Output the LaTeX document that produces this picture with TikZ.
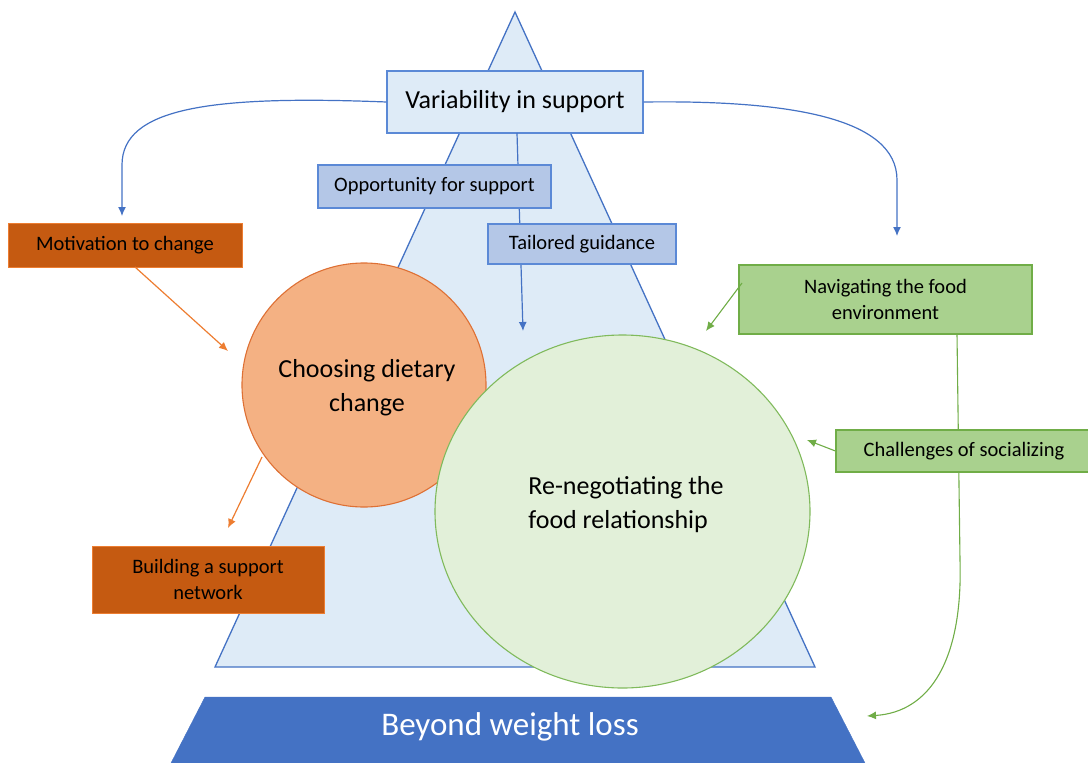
\documentclass[tikz,border=0pt]{standalone}
\usepackage{fontspec}
\setmainfont{Carlito}
\usetikzlibrary{arrows.meta,shapes.geometric}
\definecolor{triFill}{HTML}{DEEBF7}
\definecolor{triLine}{HTML}{4472C4}
\definecolor{boxLine}{RGB}{91,137,214}
\definecolor{midBlue}{HTML}{B4C7E7}
\definecolor{darkOrange}{HTML}{C55A11}
\definecolor{lineOrange}{HTML}{ED7D31}
\definecolor{circOrange}{HTML}{F4B183}
\definecolor{circOrangeLine}{RGB}{222,112,52}
\definecolor{boxGreen}{HTML}{A9D18E}
\definecolor{lineGreen}{HTML}{70AD47}
\definecolor{circGreen}{HTML}{E2F0D9}
\definecolor{circGreenLine}{RGB}{128,186,92}
\tikzset{
  tip/.style={-{Latex[length=9pt,width=8pt]}},
  bluecon/.style={draw=triLine,line width=1.2pt,tip},
  orangecon/.style={draw=lineOrange,line width=1.2pt,tip},
  greencon/.style={draw=lineGreen,line width=1.1pt,tip},
  smalltext/.style={font=\fontsize{20.5}{26}\selectfont,align=center,text=black},
  bluebox/.style={draw=boxLine,line width=1.2pt,fill=midBlue,smalltext,inner sep=0pt},
  orangebox/.style={draw=lineOrange,line width=1pt,fill=darkOrange,smalltext,inner sep=0pt},
  greenbox/.style={draw=lineGreen,line width=1.2pt,fill=boxGreen,smalltext,inner sep=0pt},
  circtext/.style={font=\fontsize{26}{34}\selectfont,text=black},
}
\begin{document}
\begin{tikzpicture}[x=1pt,y=-1pt]
\useasboundingbox (0,0) rectangle (1088,763);
% triangle
\draw[fill=triFill,draw=triLine,line width=1.3pt,line join=miter] (515,12) -- (815,667) -- (215,667) -- cycle;
% base trapezoid
\draw[fill=triLine,draw=triLine] (205,697) -- (831,697) -- (866,765) -- (170,765) -- cycle;
\node[font=\fontsize{33}{38}\selectfont,text=white] (beyond) at (510,727) {Beyond weight loss};
% top box
\node[draw=boxLine,line width=1.2pt,fill=triFill,minimum width=256pt,minimum height=62pt,inner sep=0pt,font=\fontsize{26}{30}\selectfont,text=black] (var) at (515,102) {\raisebox{4pt}{Variability in support}};
% connectors from top box
\coordinate (tg) at (523,331);
\draw[bluecon] (517,133) -- (tg);
\coordinate (lt) at (122,216);
\coordinate (rt) at (897,236);
\draw[bluecon] (var.west) .. controls (210,95) and (122,108) .. (122,165) -- (lt);
\draw[bluecon] (var.east) .. controls (790,100) and (897,118) .. (897,180) -- (rt);
% blue boxes
\node[bluebox,minimum width=233pt,minimum height=43pt] (opp) at (434.5,186.5) {Opportunity for support};
\node[bluebox,minimum width=188pt,minimum height=40pt] (tail) at (582,244) {Tailored guidance};
% orange boxes
\node[orangebox,minimum width=234pt,minimum height=44pt] (mot) at (125,245) {Motivation to change};
\node[orangebox,minimum width=232pt,minimum height=67pt] (build) at (208,579.5) {Building a support\\network};
% circles
\node[circle,draw=circOrangeLine,line width=1.1pt,fill=circOrange,minimum size=244pt,inner sep=0pt] (choose) at (364,385) {};
\node[circtext,align=center] (choosetxt) at (367,388) {Choosing dietary\\change};
\node[ellipse,draw=circGreenLine,line width=1.1pt,fill=circGreen,minimum width=375pt,minimum height=353pt,inner sep=0pt] (reneg) at (622.5,511.5) {};
\node[circtext,align=left] (renegtxt) at (626,505) {Re-negotiating the\\food relationship};
% orange connectors
\coordinate (motend) at (228,351);
\coordinate (buildend) at (228,528);
\coordinate (motstart) at (135,267);
\coordinate (chstart) at (262,457);
\draw[orangecon] (motstart) -- (motend);
\draw[orangecon] (chstart) -- (buildend);
% green boxes
\coordinate (navline) at (957,334);
\coordinate (navmid) at (960,560);
\coordinate (beyondtip) at (867,716);
\draw[draw=lineGreen,line width=1.1pt,tip] (navline) -- (navmid) .. controls (963,660) and (930,712) .. (beyondtip);
\node[greenbox,minimum width=293pt,minimum height=69pt] (nav) at (885.5,299.5) {Navigating the food\\environment};
\node[greenbox,minimum width=256pt,minimum height=42pt] (chal) at (964,451) {Challenges of socializing};
\coordinate (navstart) at (742,283);
\coordinate (navend) at (706,331);
\coordinate (chalend) at (807,440);
\draw[greencon] (navstart) -- (navend);
\draw[greencon] (chal.west) -- (chalend);
\end{tikzpicture}
\end{document}
